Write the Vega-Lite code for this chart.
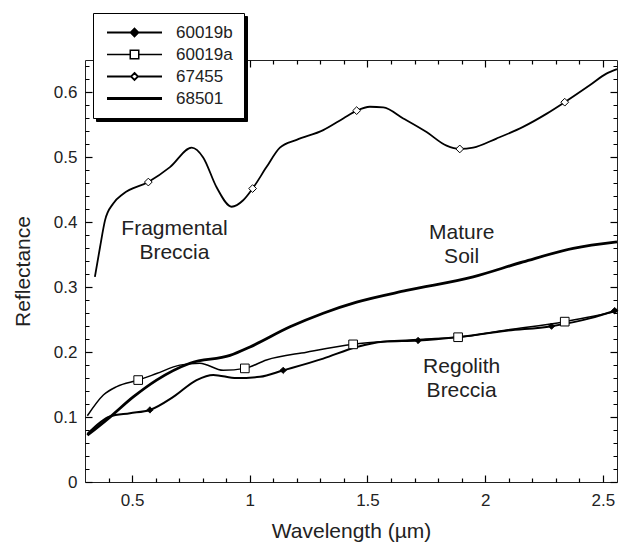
{
  "$schema": "https://vega.github.io/schema/vega-lite/v6.json",
  "width": 532,
  "height": 422,
  "autosize": {"type": "none"},
  "padding": {"left": 85, "top": 60, "right": 2, "bottom": 62},
  "background": "white",
  "config": {
    "view": {"stroke": "#222", "strokeWidth": 1},
    "font": "Liberation Sans",
    "axis": {"labelColor": "#222", "titleColor": "#222", "domain": false, "grid": false, "labelFont": "Liberation Sans", "titleFont": "Liberation Sans", "titleFontWeight": "normal", "labelFontSize": 17, "titleFontSize": 21}
  },
  "datasets": {
    "curves": [
      {"series": "60019b", "wl": 0.31, "r": 0.074},
      {"series": "60019b", "wl": 0.406, "r": 0.101},
      {"series": "60019b", "wl": 0.491, "r": 0.106},
      {"series": "60019b", "wl": 0.576, "r": 0.111},
      {"series": "60019b", "wl": 0.675, "r": 0.131},
      {"series": "60019b", "wl": 0.774, "r": 0.157},
      {"series": "60019b", "wl": 0.845, "r": 0.165},
      {"series": "60019b", "wl": 0.944, "r": 0.160},
      {"series": "60019b", "wl": 1.043, "r": 0.162},
      {"series": "60019b", "wl": 1.142, "r": 0.172},
      {"series": "60019b", "wl": 1.312, "r": 0.190},
      {"series": "60019b", "wl": 1.454, "r": 0.208},
      {"series": "60019b", "wl": 1.567, "r": 0.216},
      {"series": "60019b", "wl": 1.715, "r": 0.218},
      {"series": "60019b", "wl": 1.878, "r": 0.223},
      {"series": "60019b", "wl": 2.091, "r": 0.233},
      {"series": "60019b", "wl": 2.282, "r": 0.240},
      {"series": "60019b", "wl": 2.444, "r": 0.252},
      {"series": "60019b", "wl": 2.56, "r": 0.265},
      {"series": "60019a", "wl": 0.31, "r": 0.102},
      {"series": "60019a", "wl": 0.378, "r": 0.134},
      {"series": "60019a", "wl": 0.435, "r": 0.147},
      {"series": "60019a", "wl": 0.526, "r": 0.157},
      {"series": "60019a", "wl": 0.604, "r": 0.167},
      {"series": "60019a", "wl": 0.703, "r": 0.180},
      {"series": "60019a", "wl": 0.788, "r": 0.183},
      {"series": "60019a", "wl": 0.887, "r": 0.172},
      {"series": "60019a", "wl": 0.979, "r": 0.175},
      {"series": "60019a", "wl": 1.071, "r": 0.188},
      {"series": "60019a", "wl": 1.241, "r": 0.200},
      {"series": "60019a", "wl": 1.439, "r": 0.212},
      {"series": "60019a", "wl": 1.595, "r": 0.217},
      {"series": "60019a", "wl": 1.737, "r": 0.220},
      {"series": "60019a", "wl": 1.885, "r": 0.223},
      {"series": "60019a", "wl": 2.091, "r": 0.234},
      {"series": "60019a", "wl": 2.338, "r": 0.247},
      {"series": "60019a", "wl": 2.56, "r": 0.263},
      {"series": "67455", "wl": 0.342, "r": 0.316},
      {"series": "67455", "wl": 0.364, "r": 0.362},
      {"series": "67455", "wl": 0.385, "r": 0.403},
      {"series": "67455", "wl": 0.420, "r": 0.429},
      {"series": "67455", "wl": 0.463, "r": 0.444},
      {"series": "67455", "wl": 0.569, "r": 0.462},
      {"series": "67455", "wl": 0.661, "r": 0.485},
      {"series": "67455", "wl": 0.753, "r": 0.515},
      {"series": "67455", "wl": 0.802, "r": 0.500},
      {"series": "67455", "wl": 0.859, "r": 0.454},
      {"series": "67455", "wl": 0.923, "r": 0.424},
      {"series": "67455", "wl": 0.972, "r": 0.434},
      {"series": "67455", "wl": 1.012, "r": 0.452},
      {"series": "67455", "wl": 1.071, "r": 0.485},
      {"series": "67455", "wl": 1.128, "r": 0.515},
      {"series": "67455", "wl": 1.199, "r": 0.527},
      {"series": "67455", "wl": 1.312, "r": 0.542},
      {"series": "67455", "wl": 1.397, "r": 0.560},
      {"series": "67455", "wl": 1.454, "r": 0.572},
      {"series": "67455", "wl": 1.510, "r": 0.578},
      {"series": "67455", "wl": 1.567, "r": 0.577},
      {"series": "67455", "wl": 1.652, "r": 0.560},
      {"series": "67455", "wl": 1.751, "r": 0.539},
      {"series": "67455", "wl": 1.836, "r": 0.518},
      {"series": "67455", "wl": 1.892, "r": 0.513},
      {"series": "67455", "wl": 1.949, "r": 0.515},
      {"series": "67455", "wl": 2.048, "r": 0.529},
      {"series": "67455", "wl": 2.161, "r": 0.547},
      {"series": "67455", "wl": 2.260, "r": 0.567},
      {"series": "67455", "wl": 2.338, "r": 0.585},
      {"series": "67455", "wl": 2.444, "r": 0.611},
      {"series": "67455", "wl": 2.515, "r": 0.629},
      {"series": "67455", "wl": 2.56, "r": 0.636},
      {"series": "68501", "wl": 0.31, "r": 0.072},
      {"series": "68501", "wl": 0.406, "r": 0.100},
      {"series": "68501", "wl": 0.505, "r": 0.131},
      {"series": "68501", "wl": 0.604, "r": 0.157},
      {"series": "68501", "wl": 0.746, "r": 0.183},
      {"series": "68501", "wl": 0.916, "r": 0.195},
      {"series": "68501", "wl": 1.001, "r": 0.208},
      {"series": "68501", "wl": 1.171, "r": 0.239},
      {"series": "68501", "wl": 1.312, "r": 0.260},
      {"series": "68501", "wl": 1.454, "r": 0.277},
      {"series": "68501", "wl": 1.666, "r": 0.295},
      {"series": "68501", "wl": 1.949, "r": 0.316},
      {"series": "68501", "wl": 2.161, "r": 0.339},
      {"series": "68501", "wl": 2.374, "r": 0.360},
      {"series": "68501", "wl": 2.56, "r": 0.370}
    ],
    "markers": [
      {"series": "60019b", "wl": 0.576, "r": 0.111},
      {"series": "60019b", "wl": 1.142, "r": 0.172},
      {"series": "60019b", "wl": 1.715, "r": 0.218},
      {"series": "60019b", "wl": 2.282, "r": 0.240},
      {"series": "60019b", "wl": 2.55, "r": 0.264},
      {"series": "60019a", "wl": 0.526, "r": 0.157},
      {"series": "60019a", "wl": 0.979, "r": 0.175},
      {"series": "60019a", "wl": 1.439, "r": 0.212},
      {"series": "60019a", "wl": 1.885, "r": 0.223},
      {"series": "60019a", "wl": 2.338, "r": 0.247},
      {"series": "67455", "wl": 0.569, "r": 0.462},
      {"series": "67455", "wl": 1.012, "r": 0.452},
      {"series": "67455", "wl": 1.454, "r": 0.572},
      {"series": "67455", "wl": 1.892, "r": 0.513},
      {"series": "67455", "wl": 2.338, "r": 0.585}
    ],
    "labels": [
      {"label": "Fragmental\nBreccia", "wl": 0.68, "r": 0.389},
      {"label": "Mature\nSoil", "wl": 1.90, "r": 0.383},
      {"label": "Regolith\nBreccia", "wl": 1.90, "r": 0.177}
    ]
  },
  "resolve": {"axis": {"x": "independent", "y": "independent"}},
  "layer": [
    {
      "data": {"name": "curves"},
      "mark": {"type": "line", "interpolate": "monotone"},
      "encoding": {
        "x": {"field": "wl", "type": "quantitative",
          "scale": {"domain": [0.3, 2.56], "nice": false, "zero": false},
          "axis": {"orient": "bottom", "title": "Wavelength (µm)", "tickColor": "black", "tickWidth": 1.2,
            "values": [0.4,0.5,0.6,0.7,0.8,0.9,1,1.1,1.2,1.3,1.4,1.5,1.6,1.7,1.8,1.9,2,2.1,2.2,2.3,2.4,2.5],
            "labelExpr": "round(datum.value*10) % 5 == 0 ? format(datum.value, '') : ''",
            "tickDash": {"condition": {"test": "round(datum.value*10) % 5 != 0", "value": [0, 3, 4, 20]}, "value": []},
            "offset": -7, "tickSize": 7,
            "labelPadding": 10, "labelFlush": false, "labelOverlap": false, "titlePadding": 12}},
        "y": {"field": "r", "type": "quantitative",
          "scale": {"domain": [0, 0.65], "nice": false, "zero": false},
          "axis": {"orient": "left", "title": "Reflectance", "tickColor": "black", "tickWidth": 1.2,
            "values": [0,0.02,0.04,0.06,0.08,0.1,0.12,0.14,0.16,0.18,0.2,0.22,0.24,0.26,0.28,0.3,0.32,0.34,0.36,0.38,0.4,0.42,0.44,0.46,0.48,0.5,0.52,0.54,0.56,0.58,0.6,0.62,0.64],
            "labelExpr": "round(datum.value*100) % 10 == 0 ? format(datum.value, '') : ''",
            "tickDash": {"condition": {"test": "round(datum.value*100) % 10 != 0", "value": [0, 3, 4, 20]}, "value": []},
            "offset": -7, "tickSize": 7,
            "labelPadding": 8, "labelOverlap": false, "titlePadding": 20}},
        "stroke": {"field": "series", "type": "nominal",
          "scale": {"domain": ["60019b", "60019a", "67455", "68501"], "range": ["black", "black", "black", "black"]},
          "legend": {"orient": "none", "legendX": 8, "legendY": -47, "title": null, "zindex": 2,
            "fillColor": "white", "strokeColor": "black", "padding": 11, "rowPadding": 4,
            "labelFont": "Liberation Sans", "labelFontSize": 17, "labelColor": "#222", "labelOffset": 33, "symbolOffset": 22,
            "symbolSize": 100,
            "labelExpr": "datum.label + '     '",
            "encode": {"symbols": {"update": {
              "shape": {"signal": "datum.value === '60019b' ? 'M-5.5,0H5.5M0,-0.75L0.75,0L0,0.75L-0.75,0Z' : datum.value === '60019a' ? 'M-5.5,0H-0.85M0.85,0H5.5M-0.85,-0.85H0.85V0.85H-0.85Z' : datum.value === '67455' ? 'M-5.5,0H-0.7M0.7,0H5.5M0,-0.7L0.7,0L0,0.7L-0.7,0Z' : 'M-5.5,0H5.5'"},
              "fill": {"signal": "datum.value === '60019b' ? 'black' : 'white'"},
              "stroke": {"value": "black"},
              "strokeWidth": {"signal": "datum.value === '68501' ? 2.6 : 1.8"},
              "size": {"value": 100},
              "opacity": {"value": 1}
            }}}}},
        "strokeWidth": {"field": "series", "type": "nominal",
          "scale": {"type": "ordinal", "domain": ["60019b", "60019a", "67455", "68501"], "range": [2, 1.5, 1.8, 2.8]},
          "legend": null}
      }
    },
    {
      "data": {"name": "markers"},
      "transform": [{"filter": "datum.series !== '60019b'"}],
      "mark": {"type": "point", "filled": false, "stroke": "black", "strokeWidth": 1, "opacity": 1},
      "encoding": {
        "x": {"field": "wl", "type": "quantitative",
          "axis": {"orient": "top", "title": null, "labels": false, "tickColor": "black", "tickWidth": 1.2,
            "values": [0.4,0.5,0.6,0.7,0.8,0.9,1,1.1,1.2,1.3,1.4,1.5,1.6,1.7,1.8,1.9,2,2.1,2.2,2.3,2.4,2.5],
            "tickDash": {"condition": {"test": "round(datum.value*10) % 5 != 0", "value": [0, 3, 4, 20]}, "value": []},
            "offset": -7, "tickSize": 7}},
        "y": {"field": "r", "type": "quantitative",
          "axis": {"orient": "right", "title": null, "labels": false, "tickColor": "black", "tickWidth": 1.2,
            "values": [0,0.02,0.04,0.06,0.08,0.1,0.12,0.14,0.16,0.18,0.2,0.22,0.24,0.26,0.28,0.3,0.32,0.34,0.36,0.38,0.4,0.42,0.44,0.46,0.48,0.5,0.52,0.54,0.56,0.58,0.6,0.62,0.64],
            "tickDash": {"condition": {"test": "round(datum.value*100) % 10 != 0", "value": [0, 3, 4, 20]}, "value": []},
            "offset": -7, "tickSize": 7}},
        "shape": {"field": "series", "type": "nominal",
          "scale": {"domain": ["60019a", "67455"], "range": ["square", "diamond"]}, "legend": null},
        "size": {"field": "series", "type": "nominal",
          "scale": {"type": "ordinal", "domain": ["60019a", "67455"], "range": [75, 60]}, "legend": null},
        "fill": {"value": "white"}
      }
    },
    {
      "data": {"name": "markers"},
      "transform": [{"filter": "datum.series === '60019b'"}],
      "mark": {"type": "point", "shape": "diamond", "size": 40, "filled": true, "fill": "black", "stroke": "black", "strokeWidth": 1, "opacity": 1},
      "encoding": {
        "x": {"field": "wl", "type": "quantitative", "axis": null},
        "y": {"field": "r", "type": "quantitative", "axis": null},
        "strokeDash": {"field": "series", "type": "nominal",
          "scale": {"domain": {"unionWith": ["60019b", "60019a", "67455", "68501"]}, "range": [[1, 0], [1, 0], [1, 0], [1, 0]]},
          "legend": {"orient": "none", "legendX": 11, "legendY": -44, "title": null, "zindex": 1,
            "fillColor": "black", "strokeColor": "black", "padding": 11, "rowPadding": 4,
            "labelFont": "Liberation Sans", "labelFontSize": 17, "labelColor": "black", "labelOffset": 33, "symbolOffset": 22,
            "symbolSize": 100,
            "labelExpr": "datum.label + '     '",
            "encode": {"symbols": {"update": {
              "shape": {"value": "M-5.5,0H5.5M-0.85,-0.85H0.85V0.85H-0.85Z"},
              "fill": {"value": "black"},
              "stroke": {"value": "black"},
              "strokeWidth": {"value": 2.6},
              "size": {"value": 100},
              "opacity": {"value": 1}
            }}}}}
      }
    },
    {
      "data": {"name": "labels"},
      "mark": {"type": "text", "font": "Liberation Sans", "fontSize": 21, "lineBreak": "\n", "lineHeight": 24, "align": "center", "baseline": "middle", "color": "#222"},
      "encoding": {
        "x": {"field": "wl", "type": "quantitative", "axis": null},
        "y": {"field": "r", "type": "quantitative", "axis": null},
        "text": {"field": "label"}
      }
    }
  ]
}
